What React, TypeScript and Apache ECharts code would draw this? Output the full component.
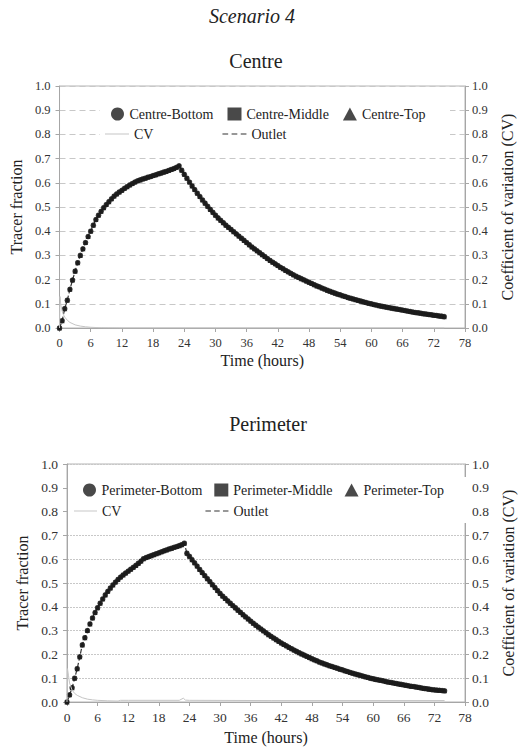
import React, { useEffect, useRef } from "react";
import * as echarts from "echarts";

// Sampling times (hours), every half hour
const hours = [
  0, 0.5, 1, 1.5, 2, 2.5, 3, 3.5, 4, 4.5, 5, 5.5, 6, 6.5, 7, 7.5, 8, 8.5, 9, 9.5,
  10, 10.5, 11, 11.5, 12, 12.5, 13, 13.5, 14, 14.5, 15, 15.5, 16, 16.5, 17, 17.5,
  18, 18.5, 19, 19.5, 20, 20.5, 21, 21.5, 22, 22.5, 23, 23.5, 24, 24.5,
  25, 25.5, 26, 26.5, 27, 27.5, 28, 28.5, 29, 29.5, 30, 30.5, 31, 31.5, 32, 32.5,
  33, 33.5, 34, 34.5, 35, 35.5, 36, 36.5, 37, 37.5, 38, 38.5, 39, 39.5, 40, 40.5,
  41, 41.5, 42, 42.5, 43, 43.5, 44, 44.5, 45, 45.5, 46, 46.5, 47, 47.5, 48, 48.5,
  49, 49.5, 50, 50.5, 51, 51.5, 52, 52.5, 53, 53.5, 54, 54.5, 55, 55.5, 56, 56.5,
  57, 57.5, 58, 58.5, 59, 59.5, 60, 60.5, 61, 61.5, 62, 62.5, 63, 63.5, 64, 64.5,
  65, 65.5, 66, 66.5, 67, 67.5, 68, 68.5, 69, 69.5, 70, 70.5, 71, 71.5, 72, 72.5,
  73, 73.5, 74,
];

const centreTracer = [
  0, 0.03, 0.08, 0.115, 0.16, 0.198, 0.235, 0.27, 0.3, 0.327, 0.353, 0.378, 0.4,
  0.425, 0.448, 0.466, 0.482, 0.497, 0.51, 0.522, 0.534, 0.545, 0.554, 0.562, 0.569,
  0.577, 0.584, 0.591, 0.597, 0.603, 0.608, 0.612, 0.616, 0.619, 0.623, 0.626, 0.63,
  0.633, 0.637, 0.64, 0.644, 0.647, 0.651, 0.655, 0.659, 0.664, 0.67, 0.652, 0.635,
  0.619, 0.603, 0.587, 0.572, 0.557, 0.543, 0.529, 0.516, 0.503, 0.49, 0.478, 0.466,
  0.455, 0.445, 0.435, 0.425, 0.416, 0.407, 0.398, 0.389, 0.38, 0.371, 0.362, 0.353,
  0.344, 0.335, 0.327, 0.319, 0.311, 0.303, 0.295, 0.287, 0.279, 0.272, 0.265, 0.258,
  0.251, 0.245, 0.238, 0.232, 0.226, 0.22, 0.214, 0.209, 0.204, 0.199, 0.194, 0.189,
  0.184, 0.179, 0.174, 0.17, 0.165, 0.161, 0.156, 0.152, 0.148, 0.144, 0.14, 0.137,
  0.133, 0.13, 0.126, 0.123, 0.12, 0.117, 0.114, 0.111, 0.108, 0.105, 0.102, 0.1,
  0.097, 0.095, 0.092, 0.09, 0.088, 0.086, 0.084, 0.082, 0.08, 0.078, 0.076, 0.074,
  0.072, 0.07, 0.068, 0.066, 0.064, 0.063, 0.061, 0.059, 0.058, 0.056, 0.055, 0.053,
  0.052, 0.05, 0.049, 0.047,
];

const perimeterTracer = [
  0, 0.03, 0.06, 0.1, 0.14, 0.19, 0.24, 0.27, 0.3, 0.328, 0.353, 0.376, 0.396,
  0.415, 0.433, 0.45, 0.465, 0.479, 0.492, 0.504, 0.515, 0.525, 0.534, 0.542, 0.55,
  0.558, 0.566, 0.574, 0.583, 0.592, 0.602, 0.607, 0.611, 0.615, 0.619, 0.623, 0.627,
  0.631, 0.635, 0.639, 0.643, 0.646, 0.65, 0.653, 0.657, 0.661, 0.667, 0.625, 0.612,
  0.598, 0.585, 0.571, 0.557, 0.544, 0.531, 0.518, 0.506, 0.493, 0.481, 0.468, 0.456,
  0.445, 0.435, 0.425, 0.415, 0.405, 0.396, 0.386, 0.377, 0.367, 0.358, 0.349, 0.34,
  0.331, 0.323, 0.315, 0.307, 0.299, 0.291, 0.283, 0.276, 0.269, 0.262, 0.255, 0.248,
  0.242, 0.236, 0.23, 0.224, 0.218, 0.213, 0.207, 0.202, 0.197, 0.192, 0.187, 0.182,
  0.177, 0.173, 0.168, 0.164, 0.16, 0.156, 0.152, 0.149, 0.145, 0.142, 0.138, 0.135,
  0.131, 0.128, 0.124, 0.121, 0.118, 0.115, 0.112, 0.109, 0.106, 0.103, 0.1, 0.098,
  0.095, 0.093, 0.091, 0.089, 0.086, 0.084, 0.082, 0.08, 0.078, 0.076, 0.074, 0.072,
  0.07, 0.068, 0.066, 0.065, 0.063, 0.061, 0.059, 0.057, 0.056, 0.054, 0.052, 0.051,
  0.05, 0.049, 0.048, 0.047,
];

const centreCvHours = [0, 0.1, 0.25, 0.5, 0.75, 1, 1.5, 2, 3, 4, 5, 6, 8, 12, 74];
const centreCv = [0, 0.13, 0.095, 0.07, 0.055, 0.045, 0.032, 0.023, 0.013, 0.008, 0.005, 0.003, 0.001, 0, 0];

const perimeterCvHours = [0, 0.1, 0.3, 0.5, 1, 1.5, 2, 3, 4, 5, 6, 8, 10, 10.5, 12, 22, 22.8, 23.2, 24, 40, 74];
const perimeterCv = [0, 0.14, 0.11, 0.08, 0.05, 0.036, 0.028, 0.018, 0.012, 0.009, 0.007, 0.005, 0.004, 0.007, 0.007, 0.007, 0.016, 0.008, 0.007, 0.006, 0.006];

const xTicks = { min: 0, max: 78, interval: 6 };
const yTicks = { min: 0, max: 1, interval: 0.1 };

const centreNames = ["Centre-Bottom", "Centre-Middle", "Centre-Top"];
const perimeterNames = ["Perimeter-Bottom", "Perimeter-Middle", "Perimeter-Top"];
const markerShapes = ["circle", "rect", "triangle"];

const FAMILY = "Liberation Serif";
const INK = "#222";
const AXIS = "#a6a6a6";
const CV_ICON = "path://M0,0 L24,0 L24,1 L0,1 Z";
const DASH_ICON = "path://M0,0 h5 v1 h-5 Z M8,0 h5 v1 h-5 Z M16,0 h5 v1 h-5 Z";

const pairs = (xs: number[], ys: number[]) => xs.map((x, i) => [x, ys[i]]);

function makeAxes(g: number, tickSize: number, splitType: any, nameGapX: number, nameGapL: number, nameGapR: number) {
  const xAxis = {
    type: "value",
    gridIndex: g,
    ...xTicks,
    name: "Time (hours)",
    nameLocation: "middle",
    nameGap: nameGapX,
    nameTextStyle: { fontFamily: FAMILY, fontSize: 16, color: INK, verticalAlign: "top" },
    axisLine: { show: true, lineStyle: { color: AXIS } },
    axisTick: { show: true, length: 4, lineStyle: { color: AXIS } },
    axisLabel: { fontFamily: FAMILY, fontSize: tickSize, color: "#333", margin: 8 },
    splitLine: { show: false },
  };
  const yLeft = {
    type: "value",
    gridIndex: g,
    ...yTicks,
    position: "left",
    name: "Tracer fraction",
    nameLocation: "middle",
    nameRotate: 90,
    nameGap: nameGapL,
    nameTextStyle: { fontFamily: FAMILY, fontSize: 16, color: INK },
    axisLine: { show: true, lineStyle: { color: AXIS } },
    axisTick: { show: true, length: 4, lineStyle: { color: AXIS } },
    axisLabel: { fontFamily: FAMILY, fontSize: tickSize, color: "#333", margin: 9, formatter: (v: number) => v.toFixed(1) },
    splitLine: { show: true, lineStyle: { color: "#c8c8c8", type: splitType, width: 1 } },
  };
  const yRight = {
    type: "value",
    gridIndex: g,
    ...yTicks,
    position: "right",
    name: "Coefficient of variation (CV)",
    nameLocation: "middle",
    nameRotate: 90,
    nameGap: nameGapR,
    nameTextStyle: { fontFamily: FAMILY, fontSize: 16, color: INK },
    axisLine: { show: true, lineStyle: { color: AXIS } },
    axisTick: { show: true, length: 4, lineStyle: { color: AXIS } },
    axisLabel: { fontFamily: FAMILY, fontSize: tickSize, color: "#333", margin: 7, formatter: (v: number) => v.toFixed(1) },
    splitLine: { show: false },
  };
  return { xAxis, yLeft, yRight };
}

function makeSeries(g: number, names: string[], tracer: number[], cvH: number[], cv: number[]) {
  const pts = pairs(hours, tracer);
  const out: any[] = [
    {
      name: "Outlet",
      type: "line",
      xAxisIndex: g,
      yAxisIndex: g * 2,
      data: pts,
      symbol: "none",
      lineStyle: { color: "#333", width: 1.2, type: "dashed" },
      itemStyle: { color: "#333" },
      z: 1,
    },
  ];
  names.forEach((n, i) => {
    out.push({
      name: n,
      type: "scatter",
      xAxisIndex: g,
      yAxisIndex: g * 2,
      data: pts,
      symbol: markerShapes[i],
      symbolSize: markerShapes[i] === "triangle" ? 5 : markerShapes[i] === "rect" ? 4 : 5.5,
      itemStyle: { color: "#1c1c1c" },
      z: 2,
    });
  });
  out.push({
    name: "CV",
    type: "line",
    xAxisIndex: g,
    yAxisIndex: g * 2 + 1,
    data: pairs(cvH, cv),
    symbol: "none",
    lineStyle: { color: "#c4c4c4", width: 1 },
    itemStyle: { color: "#c4c4c4" },
    z: 3,
  });
  return out;
}

const legendText = { fontFamily: FAMILY, fontSize: 14, color: INK };

export default function App() {
  const ref = useRef<HTMLDivElement>(null);
  useEffect(() => {
    if (!ref.current) return;
    const chart = echarts.init(ref.current, null, { renderer: "svg" });
    const a1 = makeAxes(0, 12.5, [6, 4], 24, 28, 34);
    const a2 = makeAxes(1, 13.5, [2, 1], 27, 32, 35);
    const option: any = {
      animation: false,
      backgroundColor: "#fff",
      textStyle: { fontFamily: FAMILY },
      grid: [
        { left: 53, top: 86, width: 412, height: 242, show: true, borderColor: "#b4b4b4", borderWidth: 1, backgroundColor: "transparent" },
        { left: 67, top: 464, width: 405, height: 238, show: true, borderColor: "#b4b4b4", borderWidth: 1, backgroundColor: "transparent" },
      ],
      xAxis: [a1.xAxis, a2.xAxis],
      yAxis: [a1.yLeft, a1.yRight, a2.yLeft, a2.yRight],
      legend: [
        {
          data: centreNames.map((n, i) => ({ name: n, icon: markerShapes[i] })),
          left: 111, top: 107, padding: 0, itemWidth: 14, itemHeight: 13, itemGap: 14,
          textStyle: legendText, selectedMode: false,
        },
        {
          data: [{ name: "CV", icon: CV_ICON }, { name: "Outlet", icon: DASH_ICON }],
          left: 105, top: 127, padding: 0, itemWidth: 24, itemHeight: 13, itemGap: 69,
          textStyle: legendText, selectedMode: false,
        },
        {
          data: perimeterNames.map((n, i) => ({ name: n, icon: markerShapes[i] })),
          left: 83, top: 483, padding: 0, itemWidth: 14, itemHeight: 13, itemGap: 12,
          textStyle: legendText, selectedMode: false,
        },
        {
          data: [{ name: "CV", icon: CV_ICON }, { name: "Outlet", icon: DASH_ICON }],
          left: 74, top: 504, padding: 0, itemWidth: 23, itemHeight: 13, itemGap: 84,
          textStyle: legendText, selectedMode: false,
        },
      ],
      graphic: [
        { type: "rect", shape: { x: 100, y: 100, width: 350, height: 44 }, style: { fill: "#fff" }, z: 3, silent: true },
        { type: "rect", shape: { x: 68, y: 477, width: 403, height: 46 }, style: { fill: "#fff" }, z: 3, silent: true },
        {
          type: "text", x: 252, y: 16,
          style: { text: "Scenario 4", font: `italic 20px "${FAMILY}"`, fill: INK, align: "center", verticalAlign: "middle", textAlign: "center", textVerticalAlign: "middle" },
        },
        {
          type: "text", x: 256, y: 61,
          style: { text: "Centre", font: `20px "${FAMILY}"`, fill: INK, align: "center", verticalAlign: "middle", textAlign: "center", textVerticalAlign: "middle" },
        },
        {
          type: "text", x: 268, y: 424,
          style: { text: "Perimeter", font: `20px "${FAMILY}"`, fill: INK, align: "center", verticalAlign: "middle", textAlign: "center", textVerticalAlign: "middle" },
        },
      ],
      series: [
        ...makeSeries(0, centreNames, centreTracer, centreCvHours, centreCv),
        ...makeSeries(1, perimeterNames, perimeterTracer, perimeterCvHours, perimeterCv),
      ],
    };
    chart.setOption(option);
    return () => chart.dispose();
  }, []);
  return <div ref={ref} style={{ position: "absolute", left: 0, top: 0, width: 524, height: 748 }} />;
}
